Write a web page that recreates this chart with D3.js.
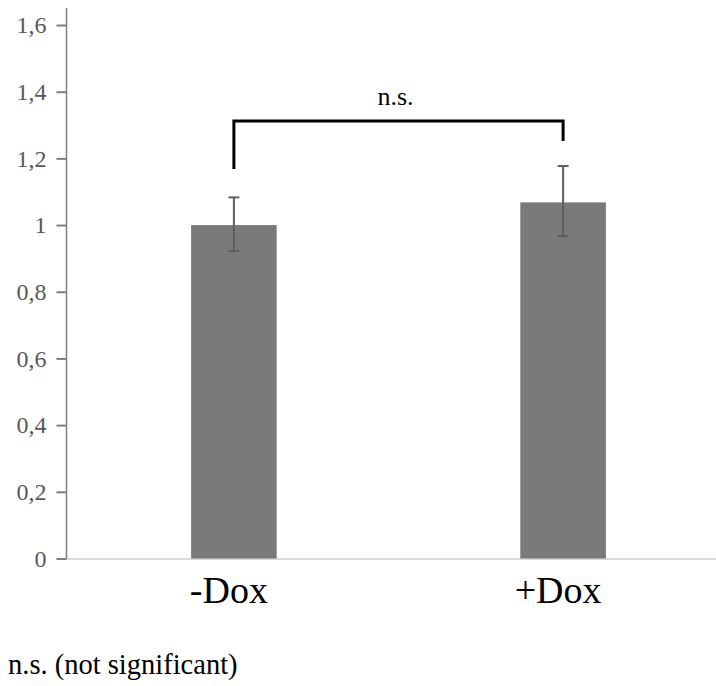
<!DOCTYPE html>
<html>
<head>
<meta charset="utf-8">
<script src="https://cdn.jsdelivr.net/npm/d3@7"></script>
<style>
  body { margin: 0; background: #fff; }
</style>
</head>
<body>
<div id="chart"></div>
<script>
// chart values
const categories = ["-Dox", "+Dox"];
const means = [1.0, 1.068];
const errLow = [0.922, 0.967];
const errHigh = [1.083, 1.177];
const yTicks = [0, 0.2, 0.4, 0.6, 0.8, 1, 1.2, 1.4, 1.6];
const bracket = {from: "-Dox", to: "+Dox", top: 1.312, leftEnd: 1.168, rightEnd: 1.252, label: "n.s."};
const footnote = "n.s. (not significant)";

const width = 716, height = 686;
const axisX = 66.5;
const serif = "Liberation Serif";

const svg = d3.select("#chart").append("svg")
  .attr("width", width)
  .attr("height", height);

const y = d3.scaleLinear().domain([0, 1.6]).range([558.5, 25]);
const x = d3.scaleBand().domain(categories).range([66, 731])
  .paddingInner(0.74).paddingOuter(0.38);

// light baseline along zero
svg.append("line")
  .attr("x1", axisX).attr("x2", width)
  .attr("y1", y(0) + 0.5).attr("y2", y(0) + 0.5)
  .attr("stroke", "#d9d9d9").attr("stroke-width", 2);

// bars
svg.append("g").selectAll("rect")
  .data(categories)
  .join("rect")
  .attr("x", d => x(d))
  .attr("width", x.bandwidth())
  .attr("y", (d, i) => y(means[i]))
  .attr("height", (d, i) => y(0) - y(means[i]))
  .attr("fill", "#7a7a7a");

// error bars
const err = svg.append("g")
  .attr("stroke", "#5f5f5f").attr("stroke-width", 2);
categories.forEach((c, i) => {
  const cx = x(c) + x.bandwidth() / 2;
  err.append("line").attr("x1", cx).attr("x2", cx)
    .attr("y1", y(errLow[i])).attr("y2", y(errHigh[i]));
  [errLow[i], errHigh[i]].forEach(v => {
    err.append("line").attr("x1", cx - 5.5).attr("x2", cx + 5.5)
      .attr("y1", y(v)).attr("y2", y(v));
  });
});

// y axis
const yAxis = svg.append("g")
  .attr("transform", "translate(" + axisX + ",0)")
  .call(d3.axisLeft(y).tickValues(yTicks).tickSize(10).tickPadding(10)
    .tickFormat(d => d3.format("~g")(d).replace(".", ",")));
yAxis.select(".domain").remove();
yAxis.selectAll(".tick line").attr("stroke", "#7f7f7f").attr("stroke-width", 2);
yAxis.selectAll(".tick text")
  .attr("fill", "#595959")
  .attr("font-family", serif)
  .attr("font-size", 24);
svg.append("line")
  .attr("x1", axisX).attr("x2", axisX)
  .attr("y1", 8).attr("y2", y(0))
  .attr("stroke", "#7f7f7f").attr("stroke-width", 1.5);

// category labels
svg.append("g").selectAll("text")
  .data(categories)
  .join("text")
  .attr("x", d => x(d) + x.bandwidth() / 2 - 5)
  .attr("y", 603)
  .attr("text-anchor", "middle")
  .attr("font-family", serif)
  .attr("font-size", 38)
  .attr("fill", "#000")
  .text(d => d);

// significance bracket
const bx1 = x(bracket.from) + x.bandwidth() / 2;
const bx2 = x(bracket.to) + x.bandwidth() / 2;
svg.append("path")
  .attr("d", d3.line()([
    [bx1, y(bracket.leftEnd)], [bx1, y(bracket.top)],
    [bx2, y(bracket.top)], [bx2, y(bracket.rightEnd)]
  ]))
  .attr("fill", "none").attr("stroke", "#000").attr("stroke-width", 3);
svg.append("text")
  .attr("x", (bx1 + bx2) / 2 - 3)
  .attr("y", 105)
  .attr("text-anchor", "middle")
  .attr("font-family", serif)
  .attr("font-size", 26)
  .text(bracket.label);

// footnote
svg.append("text")
  .attr("x", 8).attr("y", 674)
  .attr("font-family", serif)
  .attr("font-size", 28.5)
  .text(footnote);
</script>
</body>
</html>
